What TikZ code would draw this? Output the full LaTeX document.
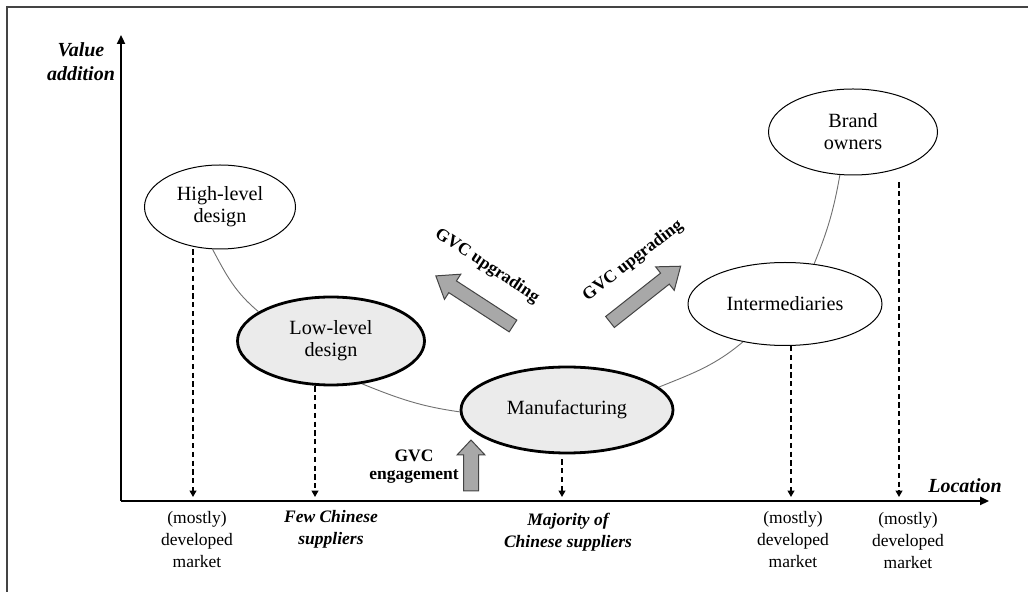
\documentclass[tikz,border=0pt]{standalone}
\usepackage{fontspec}
\setmainfont{Liberation Serif}
\usetikzlibrary{shapes.geometric,arrows.meta}
\definecolor{ellgray}{HTML}{EBEBEB}
\definecolor{arrgray}{HTML}{A8A8A8}
\definecolor{curvegray}{HTML}{707070}
\definecolor{framegray}{HTML}{444444}
\newcommand{\gvcarrow}[6]{%
  \draw[blockarrow, shift={#1}, rotate=#2]
    (0,-#4) -- ({#3-#6},-#4) -- ({#3-#6},-#5) -- (#3,0) -- ({#3-#6},#5) -- ({#3-#6},#4) -- (0,#4) -- cycle;}
\begin{document}
\begin{tikzpicture}[x=0.5pt,y=-0.5pt,
  stage/.style={ellipse, draw, inner sep=0pt, font=\fontsize{10.1}{11}\selectfont, align=center},
  core/.style={stage, fill=ellgray, line width=1.4pt},
  outer/.style={stage, fill=white, line width=0.5pt},
  link/.style={draw=curvegray, line width=0.45pt},
  drop/.style={line width=0.75pt, dash pattern=on 2.6pt off 1.8pt, -{Triangle[length=3.2pt,width=3.4pt]}},
  axis/.style={line width=1.2pt, -{Triangle[length=4.5pt,width=4pt]}},
  lab/.style={font=\fontsize{8.75}{11}\selectfont, align=center},
  labbi/.style={font=\fontsize{8.75}{10.8}\selectfont\bfseries\itshape, align=center},
  blockarrow/.style={fill=arrgray, draw=framegray, line width=0.5pt, line join=miter},
  gvclab/.style={font=\fontsize{8.75}{9}\selectfont\bfseries, align=center}
]
\useasboundingbox (0,0) rectangle (1028,592);
% frame (top and left)
\draw[framegray, line width=1pt] (6,7) -- (1028,7);
\draw[framegray, line width=1pt] (7,6) -- (7,592);

% axes
\coordinate (O) at (121,501);
\coordinate (ytip) at (121,35);
\coordinate (xtip) at (989,501);
\draw[axis] (O) -- (ytip);
\draw[axis] (O) -- (xtip);
\node[font=\fontsize{10}{12}\selectfont\bfseries\itshape, align=center] (vlab) at (81,62) {Value\\addition};
\node[font=\fontsize{10}{12}\selectfont\bfseries\itshape] (llab) at (965,486) {Location};

% stages
\node[outer, minimum width=75.5pt, minimum height=42pt] (hi) at (220,207) {High-level\\design};
\node[core, minimum width=93.5pt, minimum height=44pt] (lo) at (331,341) {Low-level\\design};
\node[core, minimum width=106pt, minimum height=43pt] (manu) at (567,410) {Manufacturing};
\node[outer, minimum width=97pt, minimum height=41.5pt] (inter) at (785,304) {Intermediaries};
\node[outer, minimum width=84.5pt, minimum height=43pt] (brand) at (853,132) {Brand\\owners};

% smile curve
\draw[link] (hi.-100) to[out=-62,in=140] (lo.158);
\draw[link] (lo.-54) to[out=-22,in=172] (manu.181);
\draw[link] (manu.14) to[out=22,in=-140] (inter.-138);
\draw[link] (inter.54) to[out=68,in=-100] (brand.-107);

% axis points
\coordinate (t1) at (193,497);
\coordinate (t2) at (315,497);
\coordinate (t3) at (562,497);
\coordinate (t4) at (791,497);
\coordinate (t5) at (899,497);
\draw[drop] (hi.south -| t1) -- (t1);
\draw[drop] (lo.south -| t2) -- (t2);
\draw[drop] ([yshift=-2.5pt]manu.south -| t3) -- (t3);
\draw[drop] (inter.south -| t4) -- (t4);
\draw[drop] ([yshift=-3.5pt]brand.south -| t5) -- (t5);

% labels below the axis
\node[lab] (m1) at (197,540) {(mostly)\\developed\\market};
\node[labbi] (few) at (331,529) {Few Chinese\\suppliers};
\node[labbi] (maj) at (568,532) {Majority of\\Chinese suppliers};
\node[lab] (m4) at (793,540) {(mostly)\\developed\\market};
\node[lab] (m5) at (908,541) {(mostly)\\developed\\market};

% GVC arrows
\gvcarrow{(513,326)}{147}{92}{7}{15}{20}
\gvcarrow{(610,322)}{38.3}{90}{7}{15}{20}
\gvcarrow{(471,491)}{90}{51}{7.5}{14}{15}
\node[gvclab, rotate=-33.5] (up1) at (487,266) {GVC upgrading};
\node[gvclab, rotate=37.5] (up2) at (633,261) {GVC upgrading};
\node[gvclab] (eng) at (414,467) {GVC\\engagement};
\end{tikzpicture}
\end{document}
